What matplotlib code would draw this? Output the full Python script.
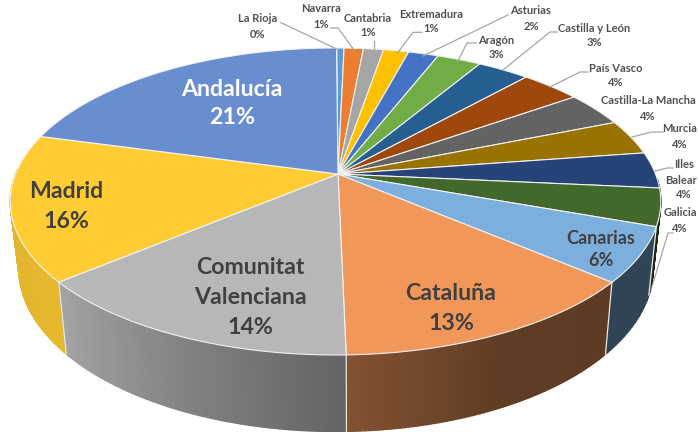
import numpy as np
import matplotlib
matplotlib.use("Agg")
import matplotlib.pyplot as plt
from matplotlib.patches import Polygon
from matplotlib.colors import to_rgb

regions = ["La Rioja", "Navarra", "Cantabria", "Extremadura", "Asturias", "Aragón",
           "Castilla y León", "País Vasco", "Castilla-La Mancha", "Murcia", "Illes Balear",
           "Galicia", "Canarias", "Cataluña", "Comunitat Valenciana", "Madrid", "Andalucía"]
shares = [0.43, 1.14, 1.19, 1.49, 1.78, 2.60, 3.08, 3.56, 3.64, 3.69, 3.80,
          3.94, 5.75, 13.40, 14.30, 15.40, 20.80]
percent_labels = ["0%", "1%", "1%", "1%", "2%", "3%", "3%", "4%", "4%", "4%", "4%",
                  "4%", "6%", "13%", "14%", "16%", "21%"]
colors = ["#5B9BD5", "#ED7D31", "#A5A5A5", "#FFC000", "#4472C4", "#70AD47", "#255E91",
          "#9E480E", "#636363", "#997300", "#264478", "#43682B", "#7CAFDD", "#F1975A",
          "#B7B7B7", "#FFCD33", "#698ED0"]
start_angle = 0.26
shade_angles = [0, 90, 130, 155, 178, 230, 290, 360]
shade_levels = [0.4, 0.4, 0.39, 0.40, 0.54, 0.9, 0.86, 0.86]

PERSP = 0.179
APEX = (338, 174)


def project(theta, cx, cy, ax_, by_):
    t = np.radians(theta)
    x, y = np.sin(t), np.cos(t)
    d = 1 + PERSP * y
    return np.column_stack([cx + ax_ * x / d, cy - by_ * y / d])


def top_rim(theta):
    return project(theta, 335.5, 174, 320, 148.6)


def bottom_rim(theta):
    return project(theta, 336, 239, 312, 158)


fig = plt.figure(figsize=(6.99, 4.32), dpi=100)
ax = fig.add_axes([0, 0, 1, 1])
ax.set_xlim(0, 699)
ax.set_ylim(432, 0)
ax.axis("off")

edges = start_angle + 3.6 * np.concatenate([[0], np.cumsum(shares)])

# side wall: shaded strips per slice, overlapping so that no seams show
strips = []
for i, col in enumerate(colors):
    th = np.linspace(edges[i], edges[i + 1], max(4, int((edges[i + 1] - edges[i]) * 1.5)))
    base = np.array(to_rgb(col))
    for a, b in zip(th[:-1], th[1:]):
        m = (a + b) / 2
        if not (92 < m < 272):
            continue
        pts = np.vstack([top_rim(np.array([a, b])), bottom_rim(np.array([b, a]))])
        shade = np.interp(m, shade_angles, shade_levels)
        strips.append((pts[:, 1].max(), pts, base * shade))
strips.sort(key=lambda s: s[0])
for _, pts, c in strips:
    ax.add_patch(Polygon(pts, closed=True, facecolor=c, edgecolor=c, lw=1.0, zorder=1))

# pale seams on the side wall
for e in edges:
    if 100 < e < 240:
        p = np.vstack([top_rim(np.array([e])), bottom_rim(np.array([e]))])
        ax.plot(p[:, 0], p[:, 1], color="#E8E8E8", lw=0.9, zorder=2)

# top face
for i, col in enumerate(colors):
    th = np.linspace(edges[i], edges[i + 1], max(3, int((edges[i + 1] - edges[i]) * 2)))
    pts = np.vstack([[APEX], top_rim(th)])
    ax.add_patch(Polygon(pts, closed=True, facecolor=col, edgecolor="#F2F2F2", lw=0.8,
                         joinstyle="round", zorder=3))

FONT = "Lato"
GREY = "#404040"
SMALL = 8.0
small_labels = {
    "La Rioja": (258, 19, 34), "Navarra": (321, 9, 24), "Cantabria": (368, 18, 33),
    "Extremadura": (431, 14, 29), "Asturias": (531, 11, 26), "Castilla y León": (594, 28, 43),
    "Aragón": (496, 40, 55), "País Vasco": (616, 68, 83), "Castilla-La Mancha": (648, 101, 117),
    "Murcia": (680, 128, 144), "Galicia": (680, 213, 228),
}
for i, name in enumerate(regions):
    if name in small_labels:
        x, y1, y2 = small_labels[name]
        ax.text(x, y1, name, ha="center", va="center", fontsize=SMALL, color="#505050",
                family=FONT, fontweight="bold", zorder=6)
        ax.text(x, y2, percent_labels[i], ha="center", va="center", fontsize=SMALL, color="#505050",
                family=FONT, fontweight="bold", zorder=6)
for x, y, s in [(684, 165, "Illes"), (681, 180, "Balear"), (684, 195, percent_labels[10])]:
    ax.text(x, y, s, ha="center", va="center", fontsize=SMALL, color="#505050",
            family=FONT, fontweight="bold", zorder=6)

big = {
    "Andalucía": (232, [89, 118], ["Andalucía"], "white", 16.7),
    "Madrid": (66, [192, 221], ["Madrid"], GREY, 16.7),
    "Comunitat Valenciana": (250, [268, 298, 327], ["Comunitat", "Valenciana"], GREY, 16.7),
    "Cataluña": (451, [293, 323], ["Cataluña"], GREY, 16.7),
    "Canarias": (601, [238, 261], ["Canarias"], GREY, 13),
}
for name, (x, ys, lines, col, fs) in big.items():
    txt = lines + [percent_labels[regions.index(name)]]
    for y, s in zip(ys, txt):
        ax.text(x, y, s, ha="center", va="center", fontsize=fs, color=col,
                family=FONT, fontweight="bold", zorder=6)

leaders = [
    [(281, 22.7), (336.7, 49)],
    [(330.7, 28), (338, 28), (354, 50)],
    [(374, 41), (374, 50.7)],
    [(421.7, 32.3), (413, 32.3), (397.7, 52.7)],
    [(508, 15), (423, 56)],
    [(476, 43), (467, 43), (458, 61)],
    [(557, 32), (550, 32), (503, 70)],
    [(588, 72), (580, 72), (550, 87)],
    [(663, 132), (652, 132), (632, 137)],
    [(673, 168), (667, 168), (655, 171)],
    [(673, 233), (668, 233), (651, 290)],
]
for seg in leaders:
    s = np.array(seg)
    ax.plot(s[:, 0], s[:, 1], color="#A6A6A6", lw=0.9, zorder=5)

fig.savefig("out.png", dpi=100, facecolor="white")
